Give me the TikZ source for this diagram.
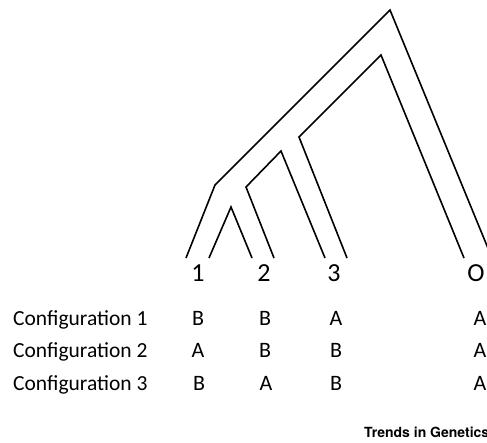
\documentclass[tikz,border=0pt]{standalone}
\usepackage{fontspec}
\setmainfont{Carlito}
\newfontfamily\creditfont{TeX Gyre Heros}
\begin{document}
\begin{tikzpicture}[x=1pt,y=-1pt,
  branch/.style={line width=1.6pt, line join=miter},
  tip/.style={inner sep=0pt, anchor=base, font=\fontsize{26}{30}\selectfont},
  rowlabel/.style={inner sep=0pt, anchor=base west, font=\fontsize{21.5}{25}\selectfont},
  state/.style={inner sep=0pt, anchor=base, font=\fontsize{22}{26}\selectfont},
  credit/.style={inner sep=0pt, anchor=base west, font=\creditfont\bfseries\fontsize{14}{16}\selectfont}]
\useasboundingbox (0,0) rectangle (487,443);

% outer lineage: taxon 1 to the root and down to the outgroup
\coordinate (a1) at (186,258);
\coordinate (a2) at (215,185);
\coordinate (root) at (390,10);
\coordinate (a3) at (492,258);
\draw[branch] (a1) -- (a2) -- (root) -- (a3);

% small wedge between taxa 1 and 2
\coordinate (w1) at (209,258);
\coordinate (w2) at (231,207);
\coordinate (w3) at (252,258);
\draw[branch] (w1) -- (w2) -- (w3);

% lineage into taxa 2 and 3
\coordinate (b1) at (274,258);
\coordinate (b2) at (246,187);
\coordinate (b3) at (281,151);
\coordinate (b4) at (325,258);
\draw[branch] (b1) -- (b2) -- (b3) -- (b4);

% lineage into taxon 3 and the outgroup
\coordinate (c1) at (347,258);
\coordinate (c2) at (299,137);
\coordinate (c3) at (381,55);
\coordinate (c4) at (464,258);
\draw[branch] (c1) -- (c2) -- (c3) -- (c4);

% tip labels
\node[tip] (t1) at (198,282) {1};
\node[tip] (t2) at (264,282) {2};
\node[tip] (t3) at (334,282) {3};
\node[tip] (tO) at (476,282) {O};

% allele configurations
\node[rowlabel] (r1) at (13,326) {Configuration 1};
\node[rowlabel] (r2) at (13,358) {Configuration 2};
\node[rowlabel] (r3) at (13,390) {Configuration 3};

\node[state] (s11) at (198,326) {B};
\node[state] (s12) at (265,326) {B};
\node[state] (s13) at (336,326) {A};
\node[state] (s14) at (480,326) {A};

\node[state] (s21) at (198,358) {A};
\node[state] (s22) at (265,358) {B};
\node[state] (s23) at (336,358) {B};
\node[state] (s24) at (480,358) {A};

\node[state] (s31) at (199,390) {B};
\node[state] (s32) at (266,390) {A};
\node[state] (s33) at (336,390) {B};
\node[state] (s34) at (480,390) {A};

% journal credit
\node[credit] (cr) at (364,437) {Trends in Genetics};
\end{tikzpicture}
\end{document}
